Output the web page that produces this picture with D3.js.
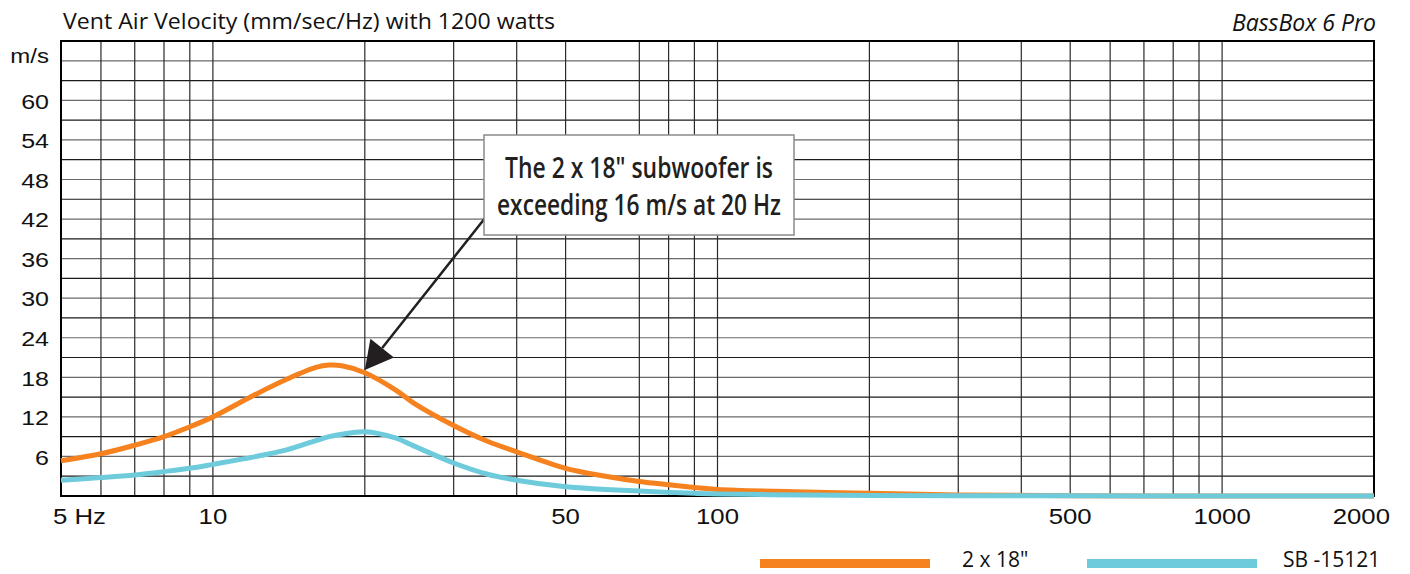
<!DOCTYPE html>
<html>
<head>
<meta charset="utf-8">
<script src="https://cdn.jsdelivr.net/npm/d3@7"></script>
<style>
  body { margin: 0; background: #fff; }
  svg { display: block; }
</style>
</head>
<body>
<div id="chart"></div>
<script>
var width = 1410, // page width
    height = 574; // page height

// frequencies (Hz) the curves were read at
var freqs = [5, 6, 7, 8, 9, 10, 12, 14, 16, 17, 18, 20, 23, 25, 30, 35, 40, 50, 60, 70, 80, 90, 100, 150, 200, 300, 500, 1000, 2000];
// vent air velocity, m/s
var twoBy18 = [5.35, 6.4, 7.7, 9.0, 10.5, 12.0, 15.2, 17.7, 19.5, 19.85, 19.75, 18.7, 16.1, 14.1, 10.7, 8.3, 6.7, 4.2, 3.0, 2.2, 1.7, 1.3, 1.0, 0.6, 0.4, 0.15, 0.05, 0.01, 0];
var sb15121 = [2.4, 2.8, 3.2, 3.7, 4.2, 4.8, 5.9, 7.0, 8.4, 9.0, 9.35, 9.75, 8.8, 7.6, 5.0, 3.3, 2.4, 1.4, 1.0, 0.75, 0.55, 0.4, 0.3, 0.15, 0.08, 0.04, 0.02, 0, 0];

var seriesNames = ['2 x 18"', 'SB -15121'];
var seriesColors = ['#f5821f', '#6dcbdb'];

var xTicks = [5, 10, 50, 100, 500, 1000, 2000];
var xTickLabels = ['5 Hz', '10', '50', '100', '500', '1000', '2000'];
var xGrid = [6, 7, 8, 9, 10, 20, 30, 40, 50, 70, 80, 90, 100, 200, 300, 400, 500, 600, 700, 800, 900, 1000];
var yTicks = [6, 12, 18, 24, 30, 36, 42, 48, 54, 60];
var yGrid = d3.range(3, 69, 3);

var svg = d3.select('#chart')
    .append('svg')
    .attr('width', width)
    .attr('height', height);

var x = d3.scaleLog()
    .domain([5, 2000])
    .range([61, 1374]);

var y = d3.scaleLinear()
    .domain([0, 69])
    .range([496, 41]);

// grid
svg.append('g')
  .selectAll('line')
  .data(yGrid)
  .enter()
  .append('line')
  .attr('x1', x(5))
  .attr('x2', x(2000))
  .attr('y1', function(d){ return y(d) })
  .attr('y2', function(d){ return y(d) })
  .attr('stroke', function(d){ return d % 6 == 0 ? '#6a6a6a' : '#1a1a1a' })
  .attr('stroke-width', 1.2);

svg.append('g')
  .selectAll('line')
  .data(xGrid)
  .enter()
  .append('line')
  .attr('x1', function(d){ return x(d) })
  .attr('x2', function(d){ return x(d) })
  .attr('y1', y(0))
  .attr('y2', y(69))
  .attr('stroke', '#2a2a2a')
  .attr('stroke-width', 1.2);

// frame
svg.append('rect')
  .attr('x', x(5))
  .attr('y', y(69))
  .attr('width', x(2000) - x(5))
  .attr('height', y(0) - y(69))
  .attr('fill', 'none')
  .attr('stroke', '#000')
  .attr('stroke-width', 2);

// y labels
svg.append('g')
  .selectAll('text')
  .data(yTicks)
  .enter()
  .append('text')
  .attr('transform', function(d){ return 'translate(49,' + (y(d) + 1) + ') scale(1.25,1)' })
  .attr('dy', '0.36em')
  .attr('text-anchor', 'end')
  .attr('font-family', 'Liberation Sans, Arial, sans-serif')
  .attr('font-size', 20)
  .attr('fill', '#111')
  .text(function(d){ return d });

svg.append('text')
  .attr('transform', 'translate(49,56) scale(1.2,1)')
  .attr('dy', '0.36em')
  .attr('text-anchor', 'end')
  .attr('font-family', 'Liberation Sans, Arial, sans-serif')
  .attr('font-size', 20)
  .attr('fill', '#111')
  .text('m/s');

// x labels
svg.append('g')
  .selectAll('text')
  .data(xTicks)
  .enter()
  .append('text')
  .attr('transform', function(d, i){
    var px = x(d);
    if (i == 0) px = px - 8;
    if (i == xTicks.length - 1) px = px + 16;
    return 'translate(' + px + ',524) scale(1.12,1)';
  })
  .attr('text-anchor', function(d, i){
    if (i == 0) return 'start';
    if (i == xTicks.length - 1) return 'end';
    return 'middle';
  })
  .attr('font-family', 'Liberation Sans, Arial, sans-serif')
  .attr('font-size', 23)
  .attr('fill', '#111')
  .text(function(d, i){ return xTickLabels[i] });

// curves
var line = d3.line()
    .x(function(d){ return x(d.f) })
    .y(function(d){ return y(d.v) })
    .curve(d3.curveCatmullRom.alpha(0.5));

var series = [twoBy18, sb15121].map(function(vals, i){
  return {
    name: seriesNames[i],
    color: seriesColors[i],
    values: freqs.map(function(f, j){ return {f: f, v: vals[j]} })
  };
});

svg.append('g')
  .selectAll('path')
  .data(series)
  .enter()
  .append('path')
  .attr('d', function(d){ return line(d.values) })
  .attr('fill', 'none')
  .attr('stroke', function(d){ return d.color })
  .attr('stroke-width', 5);

// annotation
var tipX = x(20), tipY = y(19.1);
var startX = 489, startY = 213;
var ang = Math.atan2(tipY - startY, tipX - startX);
var headLen = 28, headHalf = 15;
var baseX = tipX - headLen * Math.cos(ang), baseY = tipY - headLen * Math.sin(ang);

svg.append('line')
  .attr('x1', startX)
  .attr('y1', startY)
  .attr('x2', baseX)
  .attr('y2', baseY)
  .attr('stroke', '#231f20')
  .attr('stroke-width', 2.5);

svg.append('path')
  .attr('d', 'M' + tipX + ',' + tipY +
    'L' + (baseX + headHalf * Math.sin(ang)) + ',' + (baseY - headHalf * Math.cos(ang)) +
    'L' + (baseX - headHalf * Math.sin(ang)) + ',' + (baseY + headHalf * Math.cos(ang)) + 'Z')
  .attr('fill', '#231f20');

svg.append('rect')
  .attr('x', 484)
  .attr('y', 135)
  .attr('width', 310)
  .attr('height', 100)
  .attr('fill', '#fff')
  .attr('stroke', '#8a8a8a')
  .attr('stroke-width', 1.5);

var noteLines = ['The 2 x 18" subwoofer is', 'exceeding 16 m/s at 20 Hz'];
var noteWidths = [268, 284];
svg.append('g')
  .selectAll('text')
  .data(noteLines)
  .enter()
  .append('text')
  .attr('x', 639)
  .attr('y', function(d, i){ return 178 + i * 37 })
  .attr('text-anchor', 'middle')
  .attr('font-family', 'Open Sans, sans-serif')
  .attr('font-weight', 600)
  .attr('font-size', 29)
  .attr('textLength', function(d, i){ return noteWidths[i] })
  .attr('lengthAdjust', 'spacingAndGlyphs')
  .attr('fill', '#231f20')
  .text(function(d){ return d });

// titles
svg.append('text')
  .attr('x', 63)
  .attr('y', 29)
  .attr('font-family', 'Open Sans, sans-serif')
  .attr('font-size', 21)
  .attr('textLength', 492)
  .attr('lengthAdjust', 'spacingAndGlyphs')
  .attr('fill', '#111')
  .text('Vent Air Velocity (mm/sec/Hz) with 1200 watts');

svg.append('text')
  .attr('x', 1376)
  .attr('y', 31)
  .attr('text-anchor', 'end')
  .attr('font-family', 'Open Sans, sans-serif')
  .attr('font-style', 'italic')
  .attr('font-size', 23)
  .attr('fill', '#111')
  .text('BassBox 6 Pro');

// legend
var legendBarX = [760, 1087];
var legendTextX = [962, 1283];
var legend = svg.append('g')
  .selectAll('g')
  .data(series)
  .enter()
  .append('g');

legend.append('rect')
  .attr('x', function(d, i){ return legendBarX[i] })
  .attr('y', 559)
  .attr('width', 170)
  .attr('height', 9)
  .attr('fill', function(d){ return d.color });

legend.append('text')
  .attr('x', function(d, i){ return legendTextX[i] })
  .attr('y', 567)
  .attr('font-family', 'Open Sans, sans-serif')
  .attr('font-size', 21)
  .attr('fill', '#111')
  .text(function(d){ return d.name });
</script>
</body>
</html>
